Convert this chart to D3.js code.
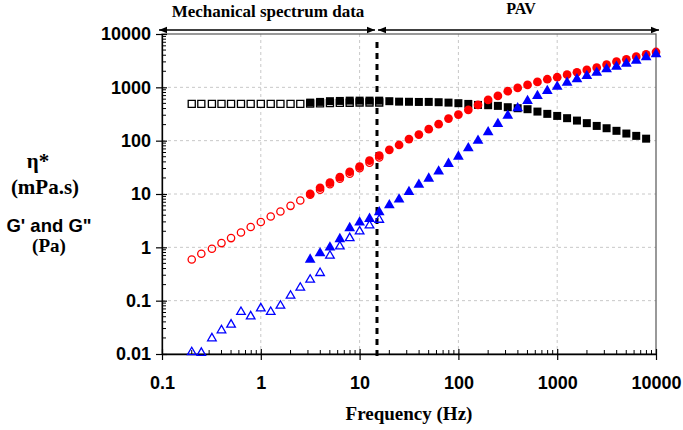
<!DOCTYPE html>
<html>
<head>
<meta charset="utf-8">
<script src="https://cdn.jsdelivr.net/npm/d3@7"></script>
<style>
  body { margin: 0; background: #fff; }
  .tick text { font-family: "Liberation Sans", Arial, sans-serif; font-weight: bold; font-size: 18px; fill: #000; }
  .serif { font-family: "Liberation Serif", "Times New Roman", serif; font-weight: bold; }
  .sans { font-family: "Liberation Sans", Arial, sans-serif; font-weight: bold; }
</style>
</head>
<body>
<script>
// frequencies (Hz)
var freqMech = [0.2, 0.25, 0.32, 0.4, 0.5, 0.63, 0.79, 1, 1.26, 1.58, 2, 2.51,
  3.16, 3.98, 5.01, 6.31, 7.94, 10, 12.6, 15.8];
var freqPAV = [3.16, 3.98, 5.01, 6.31, 7.94, 10, 12.6, 15.8, 20, 25.1, 31.6, 39.8,
  50.1, 63.1, 79.4, 100, 126, 158, 200, 251, 316, 398, 501, 631, 794, 1000,
  1259, 1585, 1995, 2512, 3162, 3981, 5012, 6310, 7943, 10000];

// mechanical spectrum (open symbols)
var etaMech = [489, 489, 489, 489, 489, 489, 489, 489, 489, 489, 489, 489,
  495, 500, 505, 510, 515, 520, 520, 520];
var g2Mech = [0.59, 0.76, 0.94, 1.2, 1.49, 1.9, 2.4, 2.98, 3.79, 4.7, 6.0, 7.55,
  9.66, 12.0, 15.3, 19.3, 24, 30.5, 38.5, 48.5];
var g1Mech = [0.0108, 0.0105, 0.0197, 0.0278, 0.0356, 0.0614, 0.0508, 0.0718, 0.0614, 0.0805,
  0.124, 0.175, 0.247, 0.33, 0.697, 1.04, 1.49, 1.99, 2.57, 3.29];

// PAV (filled symbols)
var etaPAV = [517, 533, 550, 556, 563, 563, 563, 563, 550, 539, 536, 532, 533, 526, 517,
  504, 489, 468, 462, 449, 424, 406, 389, 351, 318, 291, 264, 238, 213, 189,
  171, 153, 136, 123, 109];
var g2PAV = [10.1, 13.1, 16.4, 20.7, 26.1, 32.7, 42.4, 52.6, 67.3, 83, 107, 130,
  164, 204, 259, 308, 378, 468, 581, 690, 845, 975, 1109, 1262, 1418, 1547,
  1729, 1918, 2118, 2339, 2661, 3027, 3357, 3758, 4169, 4603];
var g1PAV = [0.59, 0.78, 1.0, 1.43, 2.3, 2.92, 3.43, 4.58, 6.19, 7.9, 10.9, 14.9,
  19.5, 26.4, 36.8, 50.4, 72.4, 100, 144, 206, 295, 406, 556, 690, 857, 1031,
  1225, 1418, 1635, 1884, 2182, 2443, 2780, 3162, 3664, 4169];

var xTicks = [0.1, 1, 10, 100, 1000, 10000];
var xTickLabels = ['0.1', '1', '10', '100', '1000', '10000'];
var yTicks = [0.01, 0.1, 1, 10, 100, 1000, 10000];
var yTickLabels = ['0.01', '0.1', '1', '10', '100', '1000', '10000'];
var splitFreq = 15;

var W = 683, H = 430;
var margin = {top: 34, right: 27, bottom: 76, left: 162},
    w = W - margin.left - margin.right,
    h = H - margin.top - margin.bottom;

var xScale = d3.scaleLog().domain([0.1, 10000]).range([0, w]);
var yScale = d3.scaleLog().domain([0.01, 10000]).range([h, 0]);

function zip(xs, ys) {
  return ys.map(function (v, i) { return [xs[i], v]; });
}

var svg = d3.select('body').append('svg')
    .attr('width', W)
    .attr('height', H)
    .style('background', '#fff');

var defs = svg.append('defs');
defs.append('marker')
    .attr('id', 'ah')
    .attr('viewBox', '0 0 10 10')
    .attr('refX', 10).attr('refY', 5)
    .attr('markerWidth', 8).attr('markerHeight', 8)
    .attr('markerUnits', 'userSpaceOnUse')
    .attr('orient', 'auto-start-reverse')
  .append('path')
    .attr('d', 'M0,1 L10,5 L0,9 Z')
    .attr('fill', '#000');

var g = svg.append('g')
    .attr('transform', 'translate(' + margin.left + ',' + margin.top + ')');

// grid
g.selectAll('.vgrid')
  .data(xTicks.slice(1, -1))
  .enter().append('line')
    .attr('x1', function (d) { return xScale(d); })
    .attr('x2', function (d) { return xScale(d); })
    .attr('y1', 0).attr('y2', h)
    .attr('stroke', '#c8c8c8').attr('stroke-dasharray', '3,3');
g.selectAll('.hgrid')
  .data(yTicks.slice(1, -1))
  .enter().append('line')
    .attr('y1', function (d) { return yScale(d); })
    .attr('y2', function (d) { return yScale(d); })
    .attr('x1', 0).attr('x2', w)
    .attr('stroke', '#c8c8c8').attr('stroke-dasharray', '3,3');

// frame
g.append('rect')
    .attr('width', w).attr('height', h)
    .attr('fill', 'none').attr('stroke', '#555').attr('stroke-width', 1.2);

// axes
var xAxis = d3.axisBottom(xScale)
    .tickValues(xTicks)
    .tickSizeInner(6)
    .tickSizeOuter(0)
    .tickPadding(16)
    .tickFormat(function (d, i) { return xTickLabels[i]; });
var yAxis = d3.axisLeft(yScale)
    .tickValues(yTicks)
    .tickSizeInner(6)
    .tickSizeOuter(0)
    .tickPadding(5)
    .tickFormat(function (d, i) { return yTickLabels[i]; });

var gx = g.append('g')
    .attr('transform', 'translate(0,' + h + ')')
    .call(xAxis);
var gy = g.append('g').call(yAxis);
gx.select('.domain').attr('stroke-width', 1.3);
gy.select('.domain').attr('stroke-width', 1.3);
gx.selectAll('.tick line').attr('y1', -5).attr('stroke-width', 1.2);
gy.selectAll('.tick line').attr('x1', 5).attr('stroke-width', 1.2);

// minor ticks inside
var xMinor = xScale.ticks().filter(function (d) { return xTicks.indexOf(d) < 0; });
var yMinor = yScale.ticks().filter(function (d) { return yTicks.indexOf(d) < 0; });
g.selectAll('.xminor')
  .data(xMinor)
  .enter().append('line')
    .attr('x1', function (d) { return xScale(d); })
    .attr('x2', function (d) { return xScale(d); })
    .attr('y1', h).attr('y2', h - 4)
    .attr('stroke', '#000');
g.selectAll('.yminor')
  .data(yMinor)
  .enter().append('line')
    .attr('y1', function (d) { return yScale(d); })
    .attr('y2', function (d) { return yScale(d); })
    .attr('x1', 0).attr('x2', 4)
    .attr('stroke', '#000');

// split line
g.append('line')
    .attr('x1', xScale(splitFreq)).attr('x2', xScale(splitFreq))
    .attr('y1', 8).attr('y2', h + 2)
    .attr('stroke', '#000').attr('stroke-width', 3)
    .attr('stroke-dasharray', '6,5');

// top arrows
var arrowY = -4;
g.append('line')
    .attr('x1', -3).attr('x2', xScale(splitFreq) - 2)
    .attr('y1', arrowY).attr('y2', arrowY)
    .attr('stroke', '#000').attr('stroke-width', 1.5)
    .attr('marker-start', 'url(#ah)').attr('marker-end', 'url(#ah)');
g.append('line')
    .attr('x1', xScale(splitFreq) + 1).attr('x2', w + 3)
    .attr('y1', arrowY).attr('y2', arrowY)
    .attr('stroke', '#000').attr('stroke-width', 1.5)
    .attr('marker-start', 'url(#ah)').attr('marker-end', 'url(#ah)');

svg.append('text')
    .attr('class', 'serif')
    .attr('x', 268).attr('y', 17)
    .attr('text-anchor', 'middle')
    .attr('font-size', 17)
    .text('Mechanical spectrum data');
svg.append('text')
    .attr('class', 'serif')
    .attr('x', 521).attr('y', 14)
    .attr('text-anchor', 'middle')
    .attr('font-size', 16)
    .text('PAV');

// series
var sym = d3.symbol();
function drawSymbols(data, type, size, fill, stroke) {
  g.append('g').selectAll('path')
    .data(data)
    .enter().append('path')
      .attr('transform', function (d) {
        return 'translate(' + xScale(d[0]) + ',' + yScale(d[1]) + ')';
      })
      .attr('d', sym.type(type).size(size)())
      .attr('fill', fill)
      .attr('stroke', stroke)
      .attr('stroke-width', 1.3);
}

drawSymbols(zip(freqMech, etaMech), d3.symbolSquare, 50, '#fff', '#000');
drawSymbols(zip(freqMech, g2Mech), d3.symbolCircle, 42, 'none', '#ff0000');
drawSymbols(zip(freqMech, g1Mech), d3.symbolTriangle, 32, 'none', '#0000ff');

drawSymbols(zip(freqPAV, etaPAV), d3.symbolSquare, 64, '#000', 'none');
drawSymbols(zip(freqPAV, g2PAV), d3.symbolCircle, 60, '#ff0000', 'none');
drawSymbols(zip(freqPAV, g1PAV), d3.symbolTriangle, 50, '#0000ff', 'none');

// axis titles
svg.append('text')
    .attr('class', 'serif')
    .attr('x', 409).attr('y', 420)
    .attr('text-anchor', 'middle')
    .attr('font-size', 19)
    .text('Frequency (Hz)');

var yt = svg.append('g').attr('text-anchor', 'middle');
yt.append('text').attr('class', 'serif').attr('x', 38).attr('y', 168)
    .attr('font-size', 21).text('\u03b7*');
yt.append('text').attr('class', 'serif').attr('x', 45).attr('y', 194)
    .attr('font-size', 21).text('(mPa.s)');
yt.append('text').attr('class', 'sans').attr('x', 49).attr('y', 232)
    .attr('font-size', 18.5).text('G\' and G"');
yt.append('text').attr('class', 'serif').attr('x', 49).attr('y', 252)
    .attr('font-size', 19).text('(Pa)');
</script>
</body>
</html>
